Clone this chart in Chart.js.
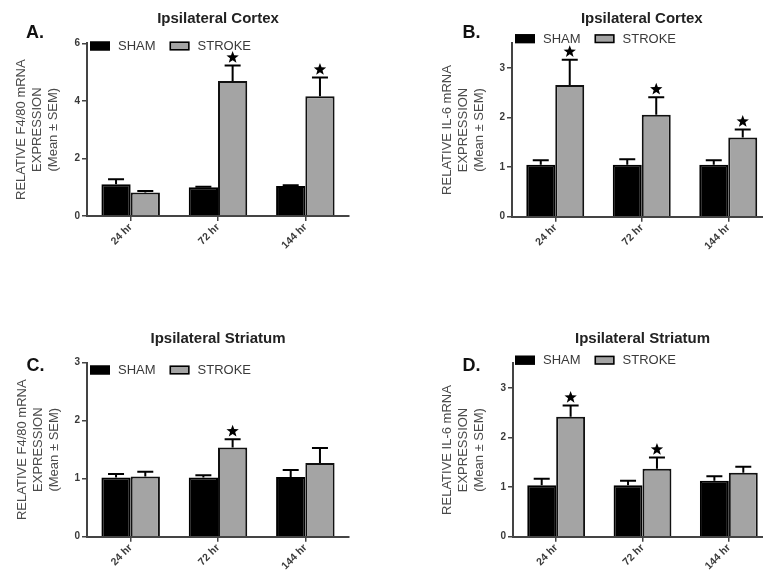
<!DOCTYPE html>
<html>
<head>
<meta charset="utf-8">
<script src="https://cdn.jsdelivr.net/npm/chart.js@4.4.1/dist/chart.umd.min.js"></script>
<style>
  html, body { margin: 0; padding: 0; width: 763px; height: 578px; overflow: hidden; background: #fff; }
  canvas { position: absolute; }
</style>
</head>
<body>
<canvas id="cA" width="381" height="289" style="left:0;top:0"></canvas>
<canvas id="cB" width="392" height="289" style="left:381px;top:0"></canvas>
<canvas id="cC" width="381" height="289" style="left:0;top:289px"></canvas>
<canvas id="cD" width="392" height="289" style="left:381px;top:289px"></canvas>
<script>
// ---------- data ----------
const timepoints = ['24 hr', '72 hr', '144 hr'];
const groupNames = ['SHAM', 'STROKE'];

// A. F4/80, Ipsilateral Cortex
const f480CortexSham      = [1.10, 1.00, 1.04];
const f480CortexShamSem   = [0.18, 0.02, 0.03];
const f480CortexStroke    = [0.82, 4.69, 4.16];
const f480CortexStrokeSem = [0.05, 0.54, 0.65];
const f480CortexSig       = [false, true, true];

// B. IL-6, Ipsilateral Cortex
const il6CortexSham      = [1.05, 1.05, 1.05];
const il6CortexShamSem   = [0.09, 0.11, 0.09];
const il6CortexStroke    = [2.66, 2.06, 1.60];
const il6CortexStrokeSem = [0.51, 0.35, 0.16];
const il6CortexSig       = [true, true, true];

// C. F4/80, Ipsilateral Striatum
const f480StriatumSham      = [1.02, 1.02, 1.03];
const f480StriatumShamSem   = [0.06, 0.04, 0.12];
const f480StriatumStroke    = [1.04, 1.54, 1.27];
const f480StriatumStrokeSem = [0.08, 0.14, 0.26];
const f480StriatumSig       = [false, true, false];

// D. IL-6, Ipsilateral Striatum
const il6StriatumSham      = [1.04, 1.04, 1.13];
const il6StriatumShamSem   = [0.13, 0.09, 0.09];
const il6StriatumStroke    = [2.42, 1.37, 1.29];
const il6StriatumStrokeSem = [0.23, 0.23, 0.12];
const il6StriatumSig       = [true, true, false];

// tick labels
const f480CortexTicks   = [0, 2, 4, 6];
const f480StriatumTicks = [0, 1, 2, 3];
const il6Ticks          = [0, 1, 2, 3];

const f480AxisTitle = ['RELATIVE F4/80 mRNA', 'EXPRESSION', '(Mean \u00B1 SEM)'];
const il6AxisTitle  = ['RELATIVE IL-6 mRNA', 'EXPRESSION', '(Mean \u00B1 SEM)'];

// ---------- drawing ----------
Chart.defaults.font.family = "'Liberation Sans', Arial, Helvetica, sans-serif";
const AXIS = '#444';
const TEXT = '#3a3a3a';

function drawStar(ctx, cx, cy, R, r) {
  ctx.beginPath();
  for (let k = 0; k < 10; k++) {
    const ang = -Math.PI / 2 + k * Math.PI / 5;
    const rad = k % 2 === 0 ? R : r;
    const px = cx + rad * Math.cos(ang), py = cy + rad * Math.sin(ang);
    if (k === 0) ctx.moveTo(px, py); else ctx.lineTo(px, py);
  }
  ctx.closePath();
  ctx.fillStyle = '#000';
  ctx.fill();
}

const panelDecor = {
  id: 'panelDecor',
  afterDatasetsDraw(chart) {
    const ctx = chart.ctx;
    const y = chart.scales.y;
    chart.data.datasets.forEach((ds, di) => {
      const meta = chart.getDatasetMeta(di);
      meta.data.forEach((bar, i) => {
        const v = ds.data[i], e = ds.sem[i];
        const yTop = y.getPixelForValue(v);
        const yCap = y.getPixelForValue(v + e);
        ctx.save();
        ctx.strokeStyle = '#000';
        ctx.lineWidth = 2;
        ctx.beginPath();
        ctx.moveTo(bar.x, yTop);
        ctx.lineTo(bar.x, yCap);
        ctx.moveTo(bar.x - 8, yCap);
        ctx.lineTo(bar.x + 8, yCap);
        ctx.stroke();
        if (ds.sig && ds.sig[i]) drawStar(ctx, bar.x, yCap - 8, 6.5, 2.7);
        ctx.restore();
      });
    });
  },
  afterDraw(chart, args, opts) {
    const ctx = chart.ctx;
    const area = chart.chartArea;
    ctx.save();
    // panel letter
    ctx.fillStyle = '#111';
    ctx.font = "bold 18px 'Liberation Sans', Arial, sans-serif";
    ctx.textAlign = 'left';
    ctx.textBaseline = 'alphabetic';
    ctx.fillText(opts.letter, opts.letterX, opts.letterY);
    // legend
    ctx.font = "13px 'Liberation Sans', Arial, sans-serif";
    ctx.textBaseline = 'middle';
    let x = area.left + opts.legendDx;
    const cy = opts.legendY;
    chart.data.datasets.forEach(ds => {
      ctx.fillStyle = ds.backgroundColor;
      ctx.fillRect(x, cy - 4.5, 20, 9);
      ctx.strokeStyle = '#000';
      ctx.lineWidth = 1.5;
      ctx.strokeRect(x + 0.75, cy - 3.75, 18.5, 7.5);
      ctx.fillStyle = TEXT;
      ctx.fillText(ds.label, x + 28, cy + 0.5);
      x += 28 + ctx.measureText(ds.label).width + 14;
    });
    ctx.restore();
  }
};

function buildChart(id, cfg) {
  const tickValues = cfg.ticks;
  return new Chart(document.getElementById(id), {
    type: 'bar',
    data: {
      labels: timepoints,
      datasets: [
        { label: groupNames[0], data: cfg.sham, sem: cfg.shamSem, sig: null,
          backgroundColor: '#000', borderColor: '#000', borderWidth: 2 },
        { label: groupNames[1], data: cfg.stroke, sem: cfg.strokeSem, sig: cfg.sig,
          backgroundColor: '#a4a4a4', borderColor: '#111', borderWidth: 2 }
      ]
    },
    options: {
      responsive: false,
      animation: false,
      devicePixelRatio: 1,
      categoryPercentage: 0.67,
      barPercentage: 1.0,
      layout: { padding: { top: cfg.padTop, right: cfg.padRight, bottom: 0, left: 0 } },
      plugins: {
        legend: { display: false },
        tooltip: { enabled: false },
        title: {
          display: true,
          text: cfg.title,
          fullSize: false,
          color: '#222',
          font: { size: 15, weight: 'bold', lineHeight: 1.2 },
          padding: { top: 0, bottom: cfg.titleGap }
        },
        panelDecor: cfg.decor
      },
      scales: {
        x: {
          afterFit: s => { s.height = cfg.xHeight; },
          border: { display: true, color: AXIS, width: 2 },
          grid: { drawOnChartArea: false, drawTicks: true, offset: false, tickLength: 5, color: AXIS, lineWidth: 1.5 },
          ticks: { color: TEXT, font: { size: 10.5, weight: 'bold' }, minRotation: 45, maxRotation: 45, autoSkip: false, padding: 0 }
        },
        y: {
          min: 0,
          max: cfg.yMax,
          afterFit: s => { s.width = cfg.yWidth; },
          afterBuildTicks: s => { s.ticks = tickValues.map(v => ({ value: v })); },
          border: { display: true, color: AXIS, width: 2 },
          grid: { drawOnChartArea: false, drawTicks: true, tickLength: 5, color: AXIS, lineWidth: 1.5 },
          ticks: { color: TEXT, font: { size: 10, weight: 'bold' }, padding: 2 },
          title: {
            display: true,
            text: cfg.yTitle,
            color: '#4a4a4a',
            font: { size: 13, lineHeight: '16px' },
            padding: { top: cfg.yTitlePad, bottom: 0 }
          }
        }
      }
    },
    plugins: [panelDecor]
  });
}

buildChart('cA', {
  title: 'Ipsilateral Cortex', sham: f480CortexSham, shamSem: f480CortexShamSem,
  stroke: f480CortexStroke, strokeSem: f480CortexStrokeSem, sig: f480CortexSig,
  ticks: f480CortexTicks, yMax: 6, yTitle: f480AxisTitle,
  padTop: 10, titleGap: 15.3, padRight: 32, yWidth: 87, xHeight: 73, yTitlePad: 13,
  decor: { letter: 'A.', letterX: 26, letterY: 38, legendDx: 3, legendY: 46 }
});
buildChart('cB', {
  title: 'Ipsilateral Cortex', sham: il6CortexSham, shamSem: il6CortexShamSem,
  stroke: il6CortexStroke, strokeSem: il6CortexStrokeSem, sig: il6CortexSig,
  ticks: il6Ticks, yMax: 3.5, yTitle: il6AxisTitle,
  padTop: 10, titleGap: 15.3, padRight: 1.5, yWidth: 131, xHeight: 72.3, yTitlePad: 58,
  decor: { letter: 'B.', letterX: 81.5, letterY: 38, legendDx: 3, legendY: 38.7 }
});
buildChart('cC', {
  title: 'Ipsilateral Striatum', sham: f480StriatumSham, shamSem: f480StriatumShamSem,
  stroke: f480StriatumStroke, strokeSem: f480StriatumStrokeSem, sig: f480StriatumSig,
  ticks: f480StriatumTicks, yMax: 3, yTitle: f480AxisTitle,
  padTop: 41.3, titleGap: 14.4, padRight: 32, yWidth: 87, xHeight: 41.3, yTitlePad: 14,
  decor: { letter: 'C.', letterX: 26.5, letterY: 82, legendDx: 3, legendY: 81 }
});
buildChart('cD', {
  title: 'Ipsilateral Striatum', sham: il6StriatumSham, shamSem: il6StriatumShamSem,
  stroke: il6StriatumStroke, strokeSem: il6StriatumStrokeSem, sig: il6StriatumSig,
  ticks: il6Ticks, yMax: 3.5, yTitle: il6AxisTitle,
  padTop: 41, titleGap: 15.3, padRight: 1, yWidth: 132, xHeight: 41.3, yTitlePad: 58,
  decor: { letter: 'D.', letterX: 81.5, letterY: 81.5, legendDx: 2, legendY: 71.2 }
});
</script>
</body>
</html>
